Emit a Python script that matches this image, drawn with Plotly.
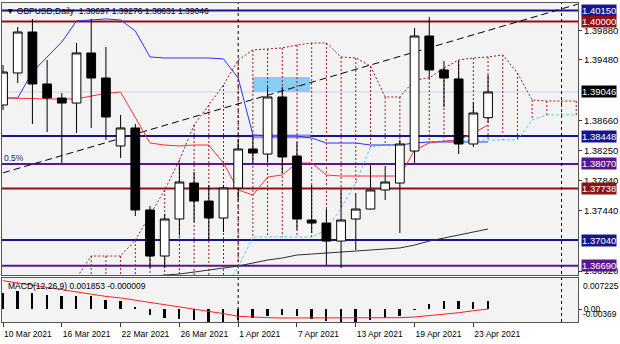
import plotly.graph_objects as go
from plotly.subplots import make_subplots

# ---------------- data ----------------
dates = ["10 Mar 2021", "11 Mar 2021", "12 Mar 2021", "15 Mar 2021", "16 Mar 2021",
         "17 Mar 2021", "18 Mar 2021", "19 Mar 2021", "22 Mar 2021", "23 Mar 2021",
         "24 Mar 2021", "25 Mar 2021", "26 Mar 2021", "29 Mar 2021", "30 Mar 2021",
         "31 Mar 2021", "1 Apr 2021", "2 Apr 2021", "5 Apr 2021", "6 Apr 2021",
         "7 Apr 2021", "8 Apr 2021", "9 Apr 2021", "12 Apr 2021", "13 Apr 2021",
         "14 Apr 2021", "15 Apr 2021", "16 Apr 2021", "19 Apr 2021", "20 Apr 2021",
         "21 Apr 2021", "22 Apr 2021", "23 Apr 2021", "26 Apr 2021"]
future_dates = ["27 Apr 2021", "28 Apr 2021", "29 Apr 2021", "30 Apr 2021", "3 May 2021", "4 May 2021"]
tick_labels = ["10 Mar 2021", "16 Mar 2021", "22 Mar 2021", "26 Mar 2021", "1 Apr 2021",
               "7 Apr 2021", "13 Apr 2021", "19 Apr 2021", "23 Apr 2021"]

opens = [1.38869, 1.39303, 1.39858, 1.39154, 1.38964, 1.38896, 1.39574, 1.39235, 1.38314, 1.38558,
         1.37447, 1.36823, 1.37325, 1.37812, 1.37568, 1.37338, 1.37745, 1.38273, 1.38205, 1.38978,
         1.38178, 1.37311, 1.37270, 1.37026, 1.37325, 1.37460, 1.37718, 1.37812, 1.38246, 1.39804,
         1.39344, 1.39222, 1.38341, 1.38697]
highs = [1.39411, 1.39926, 1.40035, 1.39479, 1.39032, 1.39709, 1.40035, 1.39655, 1.38734, 1.38612,
         1.37501, 1.37392, 1.38083, 1.37961, 1.37785, 1.37785, 1.38395, 1.38449, 1.39113, 1.39113,
         1.38368, 1.37785, 1.37460, 1.37718, 1.37677, 1.38056, 1.38043, 1.38395, 1.39913, 1.40062,
         1.39465, 1.39465, 1.38910, 1.39276]
lows = [1.38802, 1.39167, 1.38612, 1.38503, 1.38083, 1.38490, 1.38558, 1.38395, 1.38151, 1.37365,
        1.36660, 1.36660, 1.37100, 1.37284, 1.37040, 1.37148, 1.37582, 1.38083, 1.38097, 1.37948,
        1.37176, 1.37135, 1.36701, 1.36661, 1.36905, 1.37447, 1.37582, 1.37135, 1.38083, 1.39235,
        1.38842, 1.38205, 1.38300, 1.38631]
closes = [1.39316, 1.39858, 1.39154, 1.38964, 1.38896, 1.39574, 1.39235, 1.38707, 1.38558, 1.37447,
          1.36823, 1.37325, 1.37826, 1.37568, 1.37338, 1.37745, 1.38273, 1.38219, 1.38978, 1.38165,
          1.37325, 1.37270, 1.37026, 1.37311, 1.37460, 1.37718, 1.37826, 1.38341, 1.39804, 1.39344,
          1.39235, 1.38341, 1.38761, 1.39046]

tenkan = [1.38964, 1.38964, 1.38957, 1.38951, 1.38951, 1.38951, 1.38991, 1.39025, 1.39045, 1.38707,
          1.38354, 1.38327, 1.38314, 1.38327, 1.38327, 1.38083, 1.37718, 1.37650, 1.37894, 1.37921,
          1.38083, 1.38083, 1.37921, 1.37907, 1.37907, 1.37907, 1.37907, 1.37907, 1.38260, 1.38354,
          1.38381, 1.38395, 1.38490, 1.38598]
kijun = [1.38964, 1.38964, 1.39316, 1.39520, 1.39723, 1.40007, 1.40021, 1.40035, 1.40021, 1.39872,
         1.39520, 1.39506, 1.39506, 1.39506, 1.39506, 1.39493, 1.39235, 1.38463, 1.38449, 1.38449,
         1.38449, 1.38422, 1.38354, 1.38354, 1.38354, 1.38327, 1.38327, 1.38327, 1.38354, 1.38368,
         1.38368, 1.38368, 1.38368, 1.38368]
# cloud boundaries (shifted 26 bars ahead, so they run 6 bars past the last candle)
span_b = [None, None, None, None, 1.36227, 1.36525, 1.36823, 1.36823, 1.36823, 1.37040,
          1.37379, 1.37718, 1.38124, 1.38598, 1.38869, 1.39140, 1.39479, 1.39615, 1.39628, 1.39642,
          1.39682, 1.39709, 1.39709, 1.39520, 1.39506, 1.39398, 1.38978, 1.38978, 1.39208, 1.39235,
          1.39371, 1.39479, 1.39506, 1.39520, 1.39547, 1.39303, 1.38937, 1.38923, 1.38923, 1.38923]
span_a = [None, None, None, None, None, 1.3600, 1.3600, 1.3600, 1.3600, 1.3600,
          1.3600, 1.3600, 1.3600, 1.3600, 1.3600, 1.36363, 1.36674, 1.37081, 1.37081, 1.37081,
          1.37081, 1.37081, 1.37176, 1.37474, 1.37812, 1.38300, 1.38334, 1.38334, 1.38354, 1.38368,
          1.38381, 1.38381, 1.38395, 1.38395, 1.38395, 1.38395, 1.38666, 1.38734, 1.38734, 1.38734]
slow_ma = [None, None, None, None, None, None, None, None, None, 1.36525,
           1.36539, 1.36566, 1.36579, 1.36606, 1.36634, 1.36661, 1.36688, 1.36728, 1.36769, 1.36796,
           1.36837, 1.36850, 1.36864, 1.36877, 1.36891, 1.36905, 1.36918, 1.36932, 1.36972, 1.37026,
           1.37067, 1.37108, 1.37148, 1.37189]

macd_main = [0.00379, 0.00417, 0.00379, 0.00339, 0.00299, 0.00315, 0.00299, 0.00220, 0.00180, 0.00038,
             -0.00135, -0.00213, -0.00237, -0.00270, -0.00318, -0.00318, -0.00254, -0.00213, -0.00159, -0.00145,
             -0.00175, -0.00237, -0.00293, -0.00308, -0.00308, -0.00254, -0.00213, -0.00175, -0.00016, 0.00118,
             0.00197, 0.00180, 0.00173, 0.001853]
macd_signal = [0.00671, 0.00616, 0.00566, 0.00512, 0.00457, 0.00408, 0.00353, 0.00299, 0.00262, 0.00210,
               0.00160, 0.00110, 0.00058, 0.00005, -0.00050, -0.00110, -0.00172, -0.00194, -0.00206, -0.00213,
               -0.00213, -0.00213, -0.00213, -0.00213, -0.00213, -0.00213, -0.00210, -0.00206, -0.00190, -0.00159,
               -0.00123, -0.00088, -0.00040, -0.000009]

# horizontal levels: (price, colour)
levels = [(1.40150, "#16168a"), (1.40000, "#8e1212"), (1.38448, "#16168a"), (1.38070, "#5a168e"),
          (1.37738, "#8e1212"), (1.37040, "#16168a"), (1.36690, "#5a168e")]
grid_ticks = [1.39880, 1.39480, 1.38660, 1.38250, 1.37840, 1.37440, 1.36620]
last_price = 1.39046
trend_pts = [(0, 1.37950), (39.1, 1.40235)]
vlines = [16, 38]
box_zone = (17.0, 20.9, 1.39045, 1.39249)
band_zone = (17.0, 20.9, 1.38420, 1.38468)
header = "GBPUSD,Daily  1.38697 1.39276 1.38631 1.39046"
macd_label = "MACD(12,26,9) 0.001853 -0.000009"

# ---------------- figure ----------------
n = len(dates)
idx = list(range(n))
all_idx = list(range(n + len(future_dates)))
FONT = "Liberation Sans, Arial, sans-serif"
price_range = [1.36566, 1.40251]

fig = make_subplots(rows=2, cols=1, shared_xaxes=True)

# cloud hatch (vertical dotted lines between the two spans)
hx, hy = [], []
for i in all_idx:
    a, b = span_a[i], span_b[i]
    if a is not None and b is not None:
        hx += [i, i, None]
        hy += [b, a, None]
fig.add_trace(go.Scatter(x=hx, y=hy, mode="lines", line=dict(color="#a01818", width=1, dash="2px,2px"),
                         hoverinfo="skip"), row=1, col=1)
fig.add_trace(go.Scatter(x=all_idx, y=span_b, mode="lines", line=dict(color="#a01818", width=1, dash="2px,2px"),
                         hoverinfo="skip"), row=1, col=1)
fig.add_trace(go.Scatter(x=all_idx, y=span_a, mode="lines", line=dict(color="#55c8f2", width=1, dash="3px,2px"),
                         hoverinfo="skip"), row=1, col=1)
# trend line
fig.add_trace(go.Scatter(x=[p[0] for p in trend_pts], y=[p[1] for p in trend_pts], mode="lines",
                         line=dict(color="#000000", width=1, dash="7px,4px"), hoverinfo="skip"), row=1, col=1)
fig.add_trace(go.Scatter(x=idx, y=slow_ma, mode="lines", line=dict(color="#303030", width=1),
                         hoverinfo="skip"), row=1, col=1)
fig.add_trace(go.Scatter(x=idx, y=kijun, mode="lines", line=dict(color="#3030ff", width=1),
                         hoverinfo="skip"), row=1, col=1)
fig.add_trace(go.Scatter(x=idx, y=tenkan, mode="lines", line=dict(color="#ff3030", width=1),
                         hoverinfo="skip"), row=1, col=1)
# candles on an overlaid axis so they are drawn above the indicator lines
fig.add_trace(go.Candlestick(x=idx, open=opens, high=highs, low=lows, close=closes,
                             xaxis="x", yaxis="y3",
                             increasing=dict(line=dict(color="#000000", width=1), fillcolor="#ffffff"),
                             decreasing=dict(line=dict(color="#000000", width=1), fillcolor="#000000"),
                             whiskerwidth=0, hoverinfo="skip"))

# MACD
fig.add_trace(go.Bar(x=idx, y=macd_main, width=0.13, marker=dict(color="#000000", line=dict(width=0)),
                     hoverinfo="skip"), row=2, col=1)
fig.add_trace(go.Scatter(x=idx, y=macd_signal, mode="lines", line=dict(color="#ff2020", width=1),
                         hoverinfo="skip"), row=2, col=1)

shapes = []
shapes.append(dict(type="line", xref="x domain", x0=0, x1=1, yref="y", y0=last_price, y1=last_price,
                   line=dict(color="#cfcfe6", width=1), layer="below"))
for p, c in levels:
    shapes.append(dict(type="line", xref="x domain", x0=0, x1=1, yref="y", y0=p, y1=p,
                       line=dict(color=c, width=2), layer="below"))
shapes.append(dict(type="rect", xref="x", yref="y", x0=box_zone[0], x1=box_zone[1], y0=box_zone[2],
                   y1=box_zone[3], fillcolor="#88cdf6", line=dict(width=0), layer="below"))
shapes.append(dict(type="rect", xref="x", yref="y", x0=band_zone[0], x1=band_zone[1], y0=band_zone[2],
                   y1=band_zone[3], fillcolor="#8c8cf2", line=dict(width=0), layer="below"))
for v in vlines:
    shapes.append(dict(type="line", xref="x", x0=v, x1=v, yref="paper", y0=0, y1=1,
                       line=dict(color="#000000", width=1, dash="3px,3px"), layer="below"))

annotations = []
annotations.append(dict(xref="paper", yref="paper", x=0, y=1, xanchor="left", yanchor="top",
                        xshift=2, yshift=-1, showarrow=False, text="\u25bc " + header,
                        font=dict(family=FONT, size=8.5, color="#000000")))
annotations.append(dict(xref="paper", yref="y", x=0, y=1.38070, xanchor="left", yanchor="bottom",
                        xshift=0, yshift=-1, showarrow=False, text="0.5%",
                        font=dict(family=FONT, size=8.5, color="#16168a")))
annotations.append(dict(xref="paper", yref="y2 domain", x=0, y=1, xanchor="left", yanchor="top",
                        xshift=4, yshift=-1, showarrow=False, text=macd_label,
                        font=dict(family=FONT, size=8.5, color="#000000")))
for p, c in levels + [(last_price, "#000000")]:
    annotations.append(dict(xref="paper", yref="y", x=1, y=p, xanchor="left", yanchor="middle",
                            xshift=3, showarrow=False, text=f"{p:.5f}", bgcolor=c, borderpad=0,
                            font=dict(family=FONT, size=9.5, color="#ffffff")))
annotations.append(dict(xref="paper", yref="y2 domain", x=1, y=1, xanchor="left", yanchor="top",
                        xshift=3, yshift=-1, showarrow=False, text="0.007225",
                        font=dict(family=FONT, size=8.5, color="#000000")))
annotations.append(dict(xref="paper", yref="y2 domain", x=1, y=0, xanchor="left", yanchor="bottom",
                        xshift=3, yshift=1, showarrow=False, text="-0.00369",
                        font=dict(family=FONT, size=8.5, color="#000000")))

fig.update_layout(
    width=620, height=344, margin=dict(l=2, r=42, t=3, b=22),
    paper_bgcolor="#ffffff", plot_bgcolor="#f3f3f3", showlegend=False,
    boxgap=0.15, boxgroupgap=0.3, bargap=0,
    shapes=shapes, annotations=annotations,
    yaxis3=dict(overlaying="y", anchor="x", range=price_range, visible=False, showgrid=False,
                zeroline=False, fixedrange=True),
)
xr = [-0.07, 39.12]
fig.update_xaxes(range=xr, showgrid=False, zeroline=False, showline=True, mirror=True,
                 linecolor="#555555", linewidth=1, rangeslider=dict(visible=False))
fig.update_xaxes(showticklabels=False, ticks="", row=1, col=1)
fig.update_xaxes(tickmode="array", tickvals=[dates.index(t) for t in tick_labels], ticktext=tick_labels,
                 ticks="outside", ticklen=4, tickcolor="#333333", ticklabelposition="outside right",
                 ticklabelstandoff=4,
                 tickfont=dict(family=FONT, size=8.5, color="#000000"), row=2, col=1)
fig.update_yaxes(side="right", showgrid=False, zeroline=False, showline=True, mirror=True,
                 linecolor="#555555", linewidth=1, ticks="outside", ticklen=3, tickcolor="#333333",
                 tickfont=dict(family=FONT, size=9.5, color="#000000"), row=1, col=1)
fig.update_yaxes(side="right", showgrid=False, zeroline=False, showline=True, mirror=True,
                 linecolor="#555555", linewidth=1, ticks="outside", ticklen=3, tickcolor="#333333",
                 tickfont=dict(family=FONT, size=8.5, color="#000000"), row=2, col=1)
fig.update_yaxes(range=price_range, tickmode="array", tickvals=grid_ticks,
                 ticktext=[f"{t:.5f}" for t in grid_ticks], domain=[0.1473, 1.0], row=1, col=1)
fig.update_yaxes(range=[-0.00308, 0.00735], tickmode="array", tickvals=[0], ticktext=["0.00"],
                 domain=[0.0, 0.1379], row=2, col=1)

fig.write_html("out.html")
